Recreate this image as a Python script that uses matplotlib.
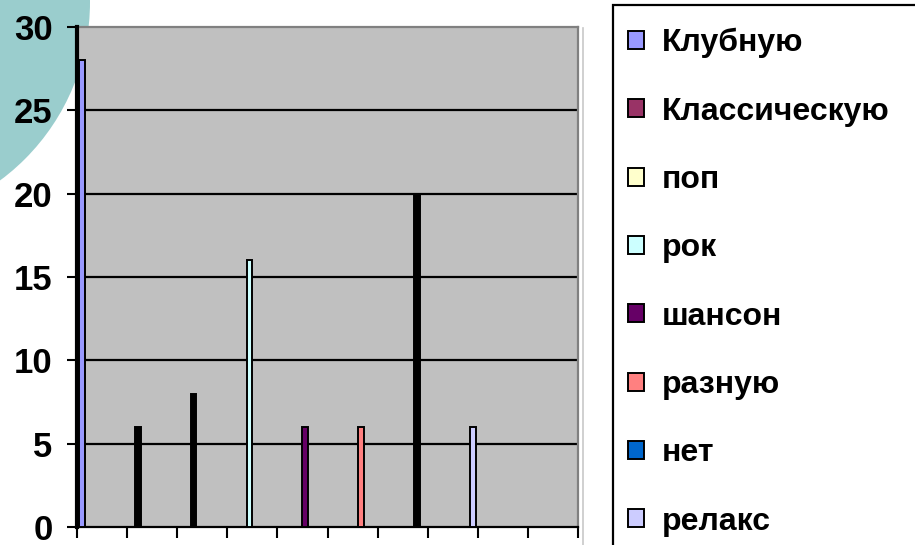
import matplotlib
matplotlib.use('Agg')
import matplotlib.pyplot as plt
from matplotlib.patches import Patch, Rectangle, Ellipse
from matplotlib.lines import Line2D

# survey: what music do you listen to
genres = ['Клубную', 'Классическую', 'поп', 'рок', 'шансон', 'разную', 'нет', 'релакс']
votes = [28, 6, 8, 16, 6, 6, 20, 6]
genre_colors = ['#9999FF', '#993366', '#FFFFCC', '#CCFFFF', '#660066', '#FF8080', '#0066CC', '#CCCCFF']
bar_faces = ['#9999FF', '#000000', '#000000', '#CCFFFF', '#660066', '#FF8080', '#000000', '#CCCCFF']
n_categories = 10
y_ticks = [0, 5, 10, 15, 20, 25, 30]

plt.rcParams['font.family'] = ['Liberation Sans', 'DejaVu Sans']
plt.rcParams['font.weight'] = 'bold'

W, H = 915, 545
fig = plt.figure(figsize=(W / 100, H / 100), dpi=100)
fig.patch.set_facecolor('white')

# decorative teal circle in the top-left corner of the slide
fig.add_artist(Ellipse((-132 / W, 1 - 2 / H), 2 * 222 / W, 2 * 222 / H,
                       transform=fig.transFigure, facecolor='#9ACDCD', edgecolor='none', zorder=0))

ax = fig.add_axes([77 / W, (H - 527) / H, (578 - 77) / W, (527 - 27) / H])
ax.set_facecolor('#C0C0C0')

n = len(genres)
bw = 0.92 / n
for i in range(n):
    x = i + 0.04 + (i + 0.5) * bw
    ax.bar(x, votes[i], width=bw, color=bar_faces[i], edgecolor='black', linewidth=1.4, zorder=3)

ax.set_xlim(0, n_categories)
ax.set_ylim(0, 30)
ax.set_xticks(range(n_categories + 1))
ax.set_xticklabels([])
ax.set_yticks(y_ticks)
ax.set_yticklabels([str(t) for t in y_ticks], fontsize=25, fontweight='bold')

for t in y_ticks[1:-1]:
    ax.axhline(t, color='black', linewidth=1.6, zorder=1)

ax.tick_params(axis='y', length=7.5, width=1.5, pad=10)
ax.tick_params(axis='x', length=8, width=1.5)
ax.spines['left'].set_linewidth(3)
ax.spines['left'].set_zorder(4)
ax.spines['bottom'].set_linewidth(1.6)
ax.spines['top'].set_color('#808080')
ax.spines['top'].set_linewidth(1.6)
ax.spines['right'].set_color('#808080')
ax.spines['right'].set_linewidth(1.6)

# light separator line next to the plot
fig.add_artist(Line2D([583 / W, 583 / W], [0, 1 - 28 / H], transform=fig.transFigure,
                      color='#C8C8C8', linewidth=1.2))

# legend box (runs off the right and bottom edges)
fig.add_artist(Rectangle((613 / W, -20 / H), 340 / W, (H - 5 + 20) / H, transform=fig.transFigure,
                         facecolor='white', edgecolor='black', linewidth=1.6))
handles = [Patch(facecolor=c, edgecolor='black', linewidth=1.4) for c in genre_colors]
fig.legend(handles, genres, loc='upper left', bbox_to_anchor=(628 / W, 1 - 28 / H),
           frameon=False, prop={'weight': 'bold', 'size': 23},
           handlelength=0.5, handleheight=0.5, handletextpad=0.55,
           labelspacing=1.2, borderpad=0, borderaxespad=0)

fig.savefig('out.png', dpi=100)
